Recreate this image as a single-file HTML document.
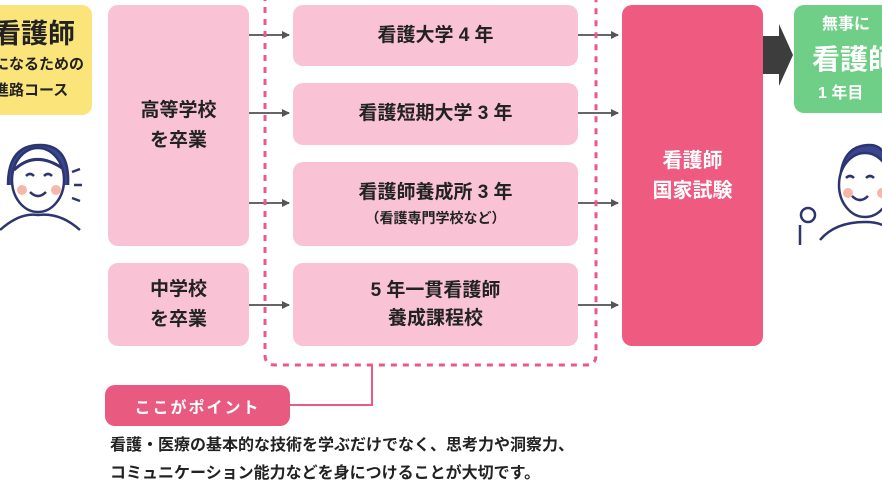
<!DOCTYPE html>
<html><head><meta charset="utf-8"><style>
body{margin:0;width:882px;height:476px;overflow:hidden;background:#fff;font-family:"Liberation Sans","Noto Sans CJK JP",sans-serif;font-weight:bold;color:#222;position:relative}
.a{position:absolute;box-sizing:border-box;display:flex;flex-direction:column;align-items:center;justify-content:center;text-align:center;border-radius:10px}
.p{background:#f9c3d5;font-size:19px;line-height:30px}
svg{position:absolute;left:0;top:0}
</style></head><body>
<div class="a" style="left:-20px;top:5px;width:112px;height:110px;background:#fbe57a;align-items:flex-start;padding-left:14px">
<div style="font-size:27px;line-height:36px">看護師</div>
<div style="font-size:15px;line-height:26px">になるための</div>
<div style="font-size:15px;line-height:26px">進路コース</div></div>
<div class="a p" style="left:108px;top:5px;width:141px;height:241px">高等学校<br>を卒業</div>
<div class="a p" style="left:108px;top:263px;width:141px;height:83px">中学校<br>を卒業</div>
<div class="a p" style="left:293px;top:5px;width:285px;height:61px">看護大学 4 年</div>
<div class="a p" style="left:293px;top:83px;width:285px;height:62px">看護短期大学 3 年</div>
<div class="a p" style="left:293px;top:162px;width:285px;height:84px;line-height:28px">看護師養成所 3 年<span style="font-size:14px;line-height:22px">（看護専門学校など）</span></div>
<div class="a p" style="left:293px;top:263px;width:285px;height:83px;line-height:28px">5 年一貫看護師<br>養成課程校</div>
<div class="a" style="left:622px;top:5px;width:141px;height:341px;background:#ef5a80;color:#fff;font-size:20px;line-height:30px">看護師<br>国家試験</div>
<div class="a" style="left:794px;top:5px;width:110px;height:108px;background:#6fcf86;color:#fff;align-items:flex-start;padding-left:18px">
<div style="font-size:16px;line-height:30px;padding-left:10px">無事に</div>
<div style="font-size:28px;line-height:40px">看護師</div>
<div style="font-size:16px;line-height:28px;padding-left:6px">1 年目</div></div>
<div class="a" style="left:105px;top:385px;width:185px;height:41px;background:#e85a80;color:#fff;font-size:16px;letter-spacing:2px">ここがポイント</div>
<div style="position:absolute;left:110px;top:432px;font-size:16px;line-height:28px;white-space:nowrap">看護・医療の基本的な技術を学ぶだけでなく、思考力や洞察力、<br>コミュニケーション能力などを身につけることが大切です。</div>
<svg width="882" height="476">
<defs><marker id="m" markerWidth="8" markerHeight="8" refX="7" refY="4" orient="auto" markerUnits="userSpaceOnUse"><path d="M0,0L8,4L0,8z" fill="#555"/></marker></defs>
<g stroke="#666" stroke-width="2" marker-end="url(#m)">
<line x1="249" y1="35" x2="289" y2="35"/><line x1="249" y1="113" x2="289" y2="113"/><line x1="249" y1="203" x2="289" y2="203"/><line x1="249" y1="305" x2="289" y2="305"/>
<line x1="578" y1="35" x2="618" y2="35"/><line x1="578" y1="113" x2="618" y2="113"/><line x1="578" y1="203" x2="618" y2="203"/><line x1="578" y1="305" x2="618" y2="305"/>
</g>
<path d="M265,-5V355Q265,365 275,365H586Q596,365 596,355V-5" fill="none" stroke="#ea5a85" stroke-width="3" stroke-dasharray="6,6"/>
<path d="M372,365V405H290" fill="none" stroke="#ea5a85" stroke-width="2"/>
<path d="M763,36H779V24L793,55L779,86V74H763z" fill="#3d3d3d"/>
<g fill="none" stroke="#2c3570" stroke-width="2.5">
<path d="M8,185Q8,145 40,145Q70,145 68,185" fill="#3a4690"/>
<ellipse cx="38" cy="180" rx="26" ry="32" fill="#fff"/>
<path d="M14,170Q35,150 62,168" stroke-width="3"/>
<path d="M26,176q4,-4 8,0M44,176q4,-4 8,0M30,192q8,8 16,0"/>
<path d="M0,230Q20,212 38,215Q60,212 80,230"/>
<path d="M72,172l8,-3M74,185h8M72,198l8,3"/>
<path d="M840,185Q840,145 870,145Q890,145 890,185" fill="#3a4690"/>
<ellipse cx="865" cy="185" rx="26" ry="32" fill="#fff"/>
<path d="M846,178q4,-4 8,0M866,178q4,-4 8,0M852,196q8,8 16,0"/>
<path d="M820,240Q835,222 865,222Q885,222 890,232"/>
<circle cx="808" cy="215" r="7"/><path d="M800,225v20"/>
</g>
<g fill="#f7b7a8"><circle cx="22" cy="190" r="5"/><circle cx="56" cy="190" r="5"/><circle cx="848" cy="193" r="5"/><circle cx="882" cy="193" r="5"/></g>
</svg>
</body></html>
